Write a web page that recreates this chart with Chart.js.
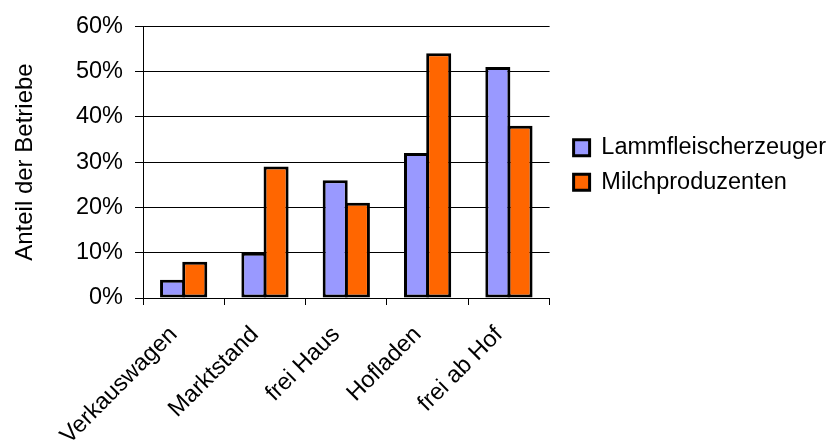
<!DOCTYPE html>
<html>
<head>
<meta charset="utf-8">
<script src="https://cdn.jsdelivr.net/npm/chart.js@4/dist/chart.umd.min.js"></script>
<style>
  html, body { margin: 0; padding: 0; background: #fff; }
  #wrap { width: 833px; height: 448px; }
</style>
</head>
<body>
<div id="wrap"><canvas id="c" width="833" height="448"></canvas></div>
<script>
// Vertriebswege: Anteil der Betriebe je Betriebstyp (in %)
const categories = ['Verkauswagen', 'Marktstand', 'frei Haus', 'Hofladen', 'frei ab Hof'];
const lammfleisch = [4, 10, 26, 32, 51];
const milch = [8, 29, 21, 54, 38];
const seriesNames = ['Lammfleischerzeuger', 'Milchproduzenten'];
const yTicks = [0, 10, 20, 30, 40, 50, 60];

const FONT = 'Liberation Sans, Arial, sans-serif';
const EDGE = 3;

new Chart(document.getElementById('c'), {
  type: 'bar',
  data: {
    labels: categories,
    datasets: [
      { label: seriesNames[0], data: lammfleisch, backgroundColor: '#9999FF', borderColor: '#000', borderWidth: EDGE, borderSkipped: false },
      { label: seriesNames[1], data: milch, backgroundColor: '#FF6600', borderColor: '#000', borderWidth: EDGE, borderSkipped: false }
    ]
  },
  options: {
    responsive: false,
    animation: false,
    events: [],
    layout: { padding: { top: 25, left: 0, right: -3, bottom: 0 } },
    // the two bars of a group overlap by one edge width so they share a single outline
    datasets: { bar: { categoryPercentage: 0.546, barPercentage: 1.128 } },
    plugins: {
      tooltip: { enabled: false },
      legend: {
        position: 'right',
        fullSize: false,
        maxWidth: 400,
        title: { display: true, text: '', font: { size: 5 }, padding: 0 },
        labels: {
          color: '#000',
          font: { family: FONT, size: 23.5 },
          boxWidth: 16,
          boxHeight: 16,
          padding: 11
        }
      }
    },
    scales: {
      x: {
        grid: { display: true, drawOnChartArea: false, drawTicks: true, tickLength: 7, color: '#000', offset: true },
        border: { display: true, color: '#000', width: 1 },
        ticks: { color: '#000', font: { family: FONT, size: 23.5 }, minRotation: 45, maxRotation: 45, padding: 16, labelOffset: -10, autoSkip: false },
        afterFit(s) { s.height = 150; }
      },
      y: {
        min: 0, max: 60,
        afterBuildTicks(s) { s.ticks = yTicks.map(v => ({ value: v })); },
        grid: { color: '#000', lineWidth: 1, tickLength: 8 },
        border: { display: true, color: '#000', width: 1 },
        ticks: { color: '#000', font: { family: FONT, size: 23.5 }, padding: 12, callback: v => v + '%' },
        title: { display: true, text: 'Anteil der Betriebe', color: '#000', font: { family: FONT, size: 24 }, padding: { top: 11, bottom: 0 } },
        afterFit(s) { s.width = 143; }
      },
      gap: {
        position: 'right',
        display: true,
        grid: { display: false },
        border: { display: false },
        ticks: { display: false },
        afterFit(s) { s.width = 13; }
      }
    }
  }
});
</script>
</body>
</html>
